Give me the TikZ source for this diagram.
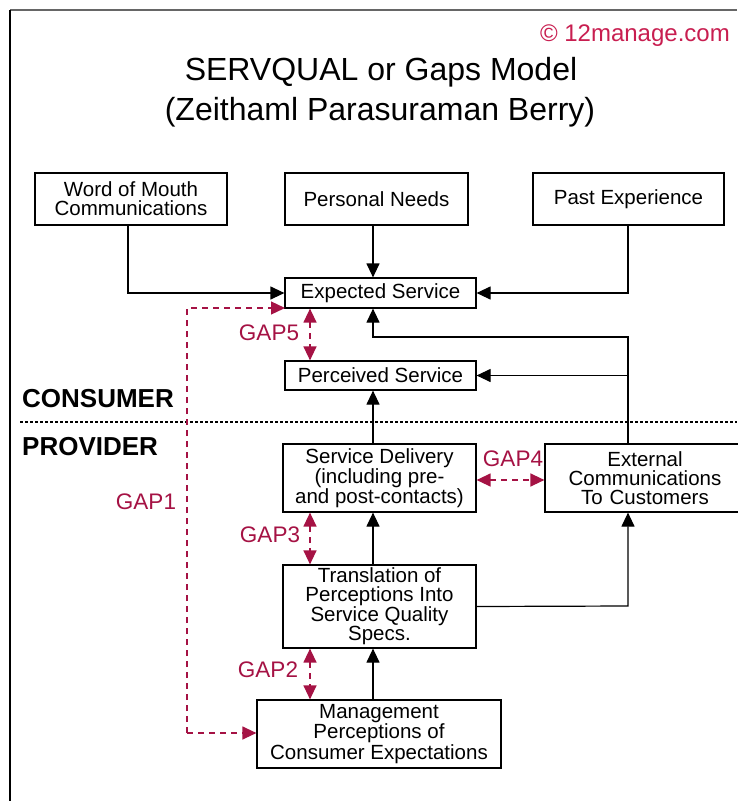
\documentclass[tikz,border=0pt]{standalone}
\usepackage{fontspec}
\setmainfont{Liberation Sans}
\usepackage{tikz}
\usetikzlibrary{arrows.meta}
\usetikzlibrary{positioning}
\definecolor{gapred}{RGB}{165,18,68}
\definecolor{copyred}{RGB}{200,30,80}
\tikzset{
  box/.style={draw,line width=1.2pt,inner sep=0pt,align=center,font=\fontsize{20.5}{19}\selectfont},
  flow/.style={line width=1.2pt,-{Triangle[length=14pt,width=13pt]}},
  gap/.style={gapred,line width=1.3pt,dash pattern=on 6pt off 5pt,{Triangle[length=14pt,width=13pt]}-{Triangle[length=14pt,width=13pt]}},
  gapone/.style={gapred,line width=1.3pt,dash pattern=on 6pt off 5pt,-{Triangle[length=14pt,width=13pt]}},
  gaplabel/.style={text=gapred,inner sep=0pt,font=\fontsize{22.5}{22}\selectfont},
  side/.style={inner sep=0pt,anchor=west,font=\fontsize{26}{26}\selectfont\bfseries}
}
\begin{document}
\begin{tikzpicture}[x=1pt,y=-1pt]
  \useasboundingbox (0,0) rectangle (737,801);
  \draw[line width=1.5pt,black!60](10,10)--(737,10);
  \draw[line width=1.2pt](10,10)--(10,801);
  \node (copy) at (730,36)[anchor=east,inner sep=0pt,text=copyred,font=\fontsize{24}{24}\selectfont]{© 12manage.com};
  \node (title1) at (381,72)[inner sep=0pt,font=\fontsize{32}{32}\selectfont]{SERVQUAL or Gaps Model};
  \node (title2) at (380,112)[inner sep=0pt,font=\fontsize{32}{32}\selectfont]{(Zeithaml Parasuraman Berry)};
  \node[box,minimum width=192pt,minimum height=52pt] (wom) at (131,199){Word of Mouth\\Communications};
  \node[box,minimum width=183pt,minimum height=52pt] (needs) at (376.5,199){Personal Needs};
  \node[box,minimum width=191pt,minimum height=52pt] (past) at (628.5,199){Past Experience};
  \node[box,minimum width=191pt,minimum height=30pt] (exp) at (380.5,293){Expected Service};
  \node[box,minimum width=191pt,minimum height=29pt] (perc) at (380.5,375.5){Perceived Service};
  \node[box,minimum width=193pt,minimum height=68pt] (deliv) at (379.5,478){Service Delivery\\(including pre-\\and post-contacts)};
  \node[box,minimum width=200pt,minimum height=68pt,text width=192pt] (ext) at (645,478){External\\Communications\\To Customers};
  \node[box,minimum width=193pt,minimum height=83pt] (trans) at (379.5,606.5){Translation of\\Perceptions Into\\Service Quality\\Specs.};
  \node[box,minimum width=244pt,minimum height=68pt] (mgmt) at (379,734){Management\\Perceptions of\\Consumer Expectations};
  \node[side] (cons) at (22,399){CONSUMER};
  \node[side] (prov) at (22,447){PROVIDER};
  \draw[line width=2.5pt,dash pattern=on 2.5pt off 2.5pt](20,422)--(737,422);
  \coordinate (wc) at (128,293);
  \coordinate (pc) at (628,293);
  \coordinate (ec) at (628,337);
  \coordinate (tc) at (628,606);
  \draw[flow](wom.south -| wc)--(wc)--(exp.west);
  \draw[flow](needs.south -| 373,0)--(exp.north -| 373,0);
  \draw[flow](past.south -| pc)--(pc)--(exp.east);
  \draw[flow](ext.north -| ec)--(ec)--(373,337)--(exp.south -| 373,0);
  \draw[flow](628,375.5)--(perc.east);
  \draw[flow](deliv.north -| 373,0)--(perc.south -| 373,0);
  \draw[flow](trans.north -| 373,0)--(deliv.south -| 373,0);
  \draw[flow](mgmt.north -| 373,0)--(trans.south -| 373,0);
  \draw[flow](trans.east)--(tc)--(ext.south -| tc);
  \draw[gap](exp.south -| 310,0)--(perc.north -| 310,0);
  \draw[gap](deliv.south -| 310,0)--(trans.north -| 310,0);
  \draw[gap](trans.south -| 310,0)--(mgmt.north -| 310,0);
  \draw[gap](deliv.east |- 0,480)--(ext.west |- 0,480);
  \coordinate (g1a) at (187,308);
  \coordinate (g1b) at (187,733);
  \draw[gapone](g1b)--(g1a)--(285,308);
  \draw[gapone](g1b)--(mgmt.west |- g1b);
  \node[gaplabel] (gap5) at (269,333){GAP5};
  \node[gaplabel] (gap4) at (513,459){GAP4};
  \node[gaplabel] (gap3) at (270,535){GAP3};
  \node[gaplabel] (gap2) at (268,670){GAP2};
  \node[gaplabel] (gap1) at (146,502){GAP1};
\end{tikzpicture}
\end{document}
